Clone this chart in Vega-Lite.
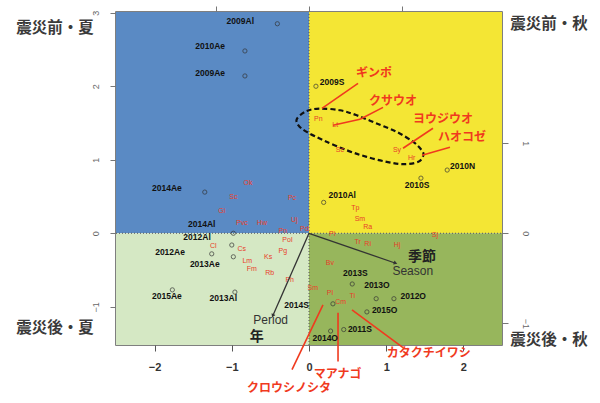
{
  "$schema": "https://vega.github.io/schema/vega-lite/v6.json",
  "width": 386,
  "height": 333,
  "autosize": {"type": "none"},
  "padding": {"left": 116, "top": 12, "right": 98, "bottom": 58},
  "background": "white",
  "config": {
    "view": {"stroke": "#555555", "strokeWidth": 1.5},
    "font": "Liberation Sans"
  },
  "datasets": {
    "quads": [
      {"q": "前・夏", "x": -2.5, "x2": 0, "y": 0, "y2": 3.01},
      {"q": "前・秋", "x": 0, "x2": 2.5, "y": 0, "y2": 3.01},
      {"q": "後・夏", "x": -2.5, "x2": 0, "y": -1.52, "y2": 0},
      {"q": "後・秋", "x": 0, "x2": 2.5, "y": -1.52, "y2": 0}
    ],
    "scores": [
      {"id": "2009Al", "x": -0.41, "y": 2.85, "lx": -0.89, "ly": 2.89},
      {"id": "2010Ae", "x": -0.83, "y": 2.48, "lx": -1.28, "ly": 2.55},
      {"id": "2009Ae", "x": -0.83, "y": 2.14, "lx": -1.28, "ly": 2.18},
      {"id": "2014Ae", "x": -1.35, "y": 0.56, "lx": -1.84, "ly": 0.61},
      {"id": "2014Al", "x": -0.98, "y": 0.0, "lx": -1.39, "ly": 0.13},
      {"id": "2012Al", "x": -1.0, "y": -0.16, "lx": -1.45, "ly": -0.05},
      {"id": "2012Ae", "x": -1.26, "y": -0.28, "lx": -1.8, "ly": -0.25},
      {"id": "2013Ae", "x": -0.98, "y": -0.32, "lx": -1.35, "ly": -0.42},
      {"id": "2015Ae", "x": -1.77, "y": -0.77, "lx": -1.84, "ly": -0.86},
      {"id": "2013Al", "x": -0.96, "y": -0.8, "lx": -1.11, "ly": -0.88},
      {"id": "2009S", "x": 0.09, "y": 2.0, "lx": 0.3, "ly": 2.06},
      {"id": "2010N", "x": 1.79, "y": 0.86, "lx": 1.99, "ly": 0.91},
      {"id": "2010S", "x": 1.45, "y": 0.75, "lx": 1.4, "ly": 0.66},
      {"id": "2010Al", "x": 0.19, "y": 0.42, "lx": 0.43, "ly": 0.52},
      {"id": "2013S", "x": 0.56, "y": -0.69, "lx": 0.6, "ly": -0.54},
      {"id": "2013O", "x": 0.87, "y": -0.89, "lx": 0.88, "ly": -0.7},
      {"id": "2012O", "x": 1.1, "y": -0.89, "lx": 1.35, "ly": -0.86},
      {"id": "2015O", "x": 0.75, "y": -1.07, "lx": 0.98, "ly": -1.05},
      {"id": "2014S", "x": 0.31, "y": -0.96, "lx": -0.16, "ly": -0.97},
      {"id": "2011S", "x": 0.45, "y": -1.31, "lx": 0.66, "ly": -1.3},
      {"id": "2014O", "x": 0.28, "y": -1.33, "lx": 0.21, "ly": -1.42}
    ],
    "species": [
      {"sp": "Ok", "x": -0.79, "y": 0.68},
      {"sp": "Sc", "x": -0.98, "y": 0.49},
      {"sp": "Gi", "x": -1.13, "y": 0.3},
      {"sp": "Pvc", "x": -0.87, "y": 0.14},
      {"sp": "Hw", "x": -0.61, "y": 0.14},
      {"sp": "Pc", "x": -0.22, "y": 0.48},
      {"sp": "Uj", "x": -0.19, "y": 0.18},
      {"sp": "Pn", "x": -0.34, "y": 0.03},
      {"sp": "Pd", "x": -0.06, "y": 0.06},
      {"sp": "Pol", "x": -0.28, "y": -0.09},
      {"sp": "Cl", "x": -1.24, "y": -0.18},
      {"sp": "Cs", "x": -0.87, "y": -0.21},
      {"sp": "Pg", "x": -0.34, "y": -0.24},
      {"sp": "Lm", "x": -0.8, "y": -0.38},
      {"sp": "Ks", "x": -0.53, "y": -0.32},
      {"sp": "Fm", "x": -0.74, "y": -0.48},
      {"sp": "Rb", "x": -0.51, "y": -0.54},
      {"sp": "Ph", "x": -0.25, "y": -0.63},
      {"sp": "Pn", "x": 0.12, "y": 1.56},
      {"sp": "Lt", "x": 0.34, "y": 1.47},
      {"sp": "Sc", "x": 0.4, "y": 1.13},
      {"sp": "Sy", "x": 1.14, "y": 1.13},
      {"sp": "Hr", "x": 1.33, "y": 1.02},
      {"sp": "Tp", "x": 0.6, "y": 0.34},
      {"sp": "Sm", "x": 0.66, "y": 0.19},
      {"sp": "Ra", "x": 0.76, "y": 0.09},
      {"sp": "Pi", "x": 0.3, "y": -0.01},
      {"sp": "Tr", "x": 0.63, "y": -0.12},
      {"sp": "Ri", "x": 0.76, "y": -0.15},
      {"sp": "Hj", "x": 1.14, "y": -0.16},
      {"sp": "Sj", "x": 1.63, "y": -0.02},
      {"sp": "Bv", "x": 0.27, "y": -0.4},
      {"sp": "Sm", "x": 0.05, "y": -0.74},
      {"sp": "Pl", "x": 0.27, "y": -0.81},
      {"sp": "Cm", "x": 0.41, "y": -0.93},
      {"sp": "Ti", "x": 0.56, "y": -0.86}
    ],
    "ellipse": [
      {"i": 1, "x": -0.155, "y": 1.56},
      {"i": 2, "x": -0.03, "y": 1.663},
      {"i": 3, "x": 0.142, "y": 1.696},
      {"i": 4, "x": 0.402, "y": 1.673},
      {"i": 5, "x": 0.618, "y": 1.605},
      {"i": 6, "x": 0.877, "y": 1.493},
      {"i": 7, "x": 1.136, "y": 1.379},
      {"i": 8, "x": 1.351, "y": 1.243},
      {"i": 9, "x": 1.46, "y": 1.13},
      {"i": 10, "x": 1.481, "y": 1.062},
      {"i": 11, "x": 1.416, "y": 0.972},
      {"i": 12, "x": 1.221, "y": 0.94},
      {"i": 13, "x": 1.006, "y": 0.972},
      {"i": 14, "x": 0.747, "y": 1.039},
      {"i": 15, "x": 0.488, "y": 1.13},
      {"i": 16, "x": 0.185, "y": 1.266},
      {"i": 17, "x": -0.03, "y": 1.379},
      {"i": 18, "x": -0.139, "y": 1.47}
    ],
    "leaders": [
      {"name": "ギンポ", "x": 0.168, "y": 1.7, "x2": 0.635, "y2": 2.039},
      {"name": "クサウオ", "x": 0.311, "y": 1.47, "x2": 0.661, "y2": 1.551},
      {"name": "クサウオ", "x": 0.661, "y": 1.551, "x2": 0.959, "y2": 1.713},
      {"name": "ヨウジウオ", "x": 1.218, "y": 1.157, "x2": 1.606, "y2": 1.429},
      {"name": "ハオコゼ", "x": 1.464, "y": 1.062, "x2": 1.826, "y2": 1.171},
      {"name": "クロウシノシタ", "x": 0.181, "y": -0.973, "x2": -0.22, "y2": -1.855},
      {"name": "マアナゴ", "x": 0.376, "y": -1.081, "x2": 0.376, "y2": -1.746},
      {"name": "カタクチイワシ", "x": 0.557, "y": -1.041, "x2": 1.218, "y2": -1.556}
    ],
    "jpLabels": [
      {"name": "ギンポ", "x": 0.842, "y": 2.175},
      {"name": "クサウオ", "x": 1.088, "y": 1.795},
      {"name": "ヨウジウオ", "x": 1.736, "y": 1.551},
      {"name": "ハオコゼ", "x": 1.982, "y": 1.307},
      {"name": "クロウシノシタ", "x": -0.26, "y": -2.11},
      {"name": "マアナゴ", "x": 0.37, "y": -1.91},
      {"name": "カタクチイワシ", "x": 1.55, "y": -1.635}
    ],
    "corners": [
      {"label": "震災前・夏", "x": -3.29, "y": 2.786},
      {"label": "震災後・夏", "x": -3.29, "y": -1.285},
      {"label": "震災前・秋", "x": 3.109, "y": 2.853},
      {"label": "震災後・秋", "x": 3.109, "y": -1.448}
    ],
    "zero": [{"v": 0, "lo": -1.52, "hi": 3.01, "left": -2.5, "right": 2.5}],
    "vectors": [
      {"var": "Season", "x0": 0, "y0": 0, "x": 0.92, "y": -0.33},
      {"var": "Period", "x0": 0, "y0": 0, "x": -0.385, "y": -0.91}
    ],
    "vecLabels": [
      {"t": "季節", "lang": "ja", "x": 1.21, "y": -0.26},
      {"t": "Season", "lang": "en", "x": 1.11, "y": -0.42},
      {"t": "Period", "lang": "en", "x": -0.41, "y": -0.96},
      {"t": "年", "lang": "ja", "x": -0.56, "y": -1.15}
    ]
  },
  "layer": [
    {
      "layer": [
        {
          "data": {"name": "quads"},
          "mark": {"type": "rect"},
          "encoding": {
            "x": {"field": "x", "type": "quantitative", "scale": {"domain": [-2.5, 2.5], "nice": false, "zero": false},
              "axis": {"orient": "bottom", "values": [-2, -1, 0, 1, 2], "format": "d", "title": null, "grid": false, "domain": false, "tickSize": 6, "tickColor": "#555", "labelFontSize": 11, "labelFontWeight": "bold", "labelColor": "#333", "labelPadding": 10}},
            "x2": {"field": "x2"},
            "y": {"field": "y", "type": "quantitative", "scale": {"domain": [-1.52, 3.01], "nice": false, "zero": false},
              "axis": {"orient": "left", "values": [-1, 0, 1, 2, 3], "format": "d", "title": null, "grid": false, "domain": false, "tickSize": 6, "tickColor": "#777", "labelFontSize": 9, "labelColor": "#666", "labelAngle": -90, "labelAlign": "center", "labelBaseline": "bottom", "labelPadding": 10}},
            "y2": {"field": "y2"},
            "color": {"field": "q", "type": "nominal", "legend": null,
              "scale": {"domain": ["前・夏", "前・秋", "後・夏", "後・秋"], "range": ["#5a8ac4", "#f4e634", "#d5e8c4", "#97b65c"]}}
          }
        },
        {
          "data": {"name": "zero"},
          "mark": {"type": "rule", "color": "#555555", "strokeDash": [1, 2], "strokeWidth": 1},
          "encoding": {
            "x": {"field": "v", "type": "quantitative", "scale": {"domain": [-2.5, 2.5], "nice": false, "zero": false}},
            "y": {"field": "lo", "type": "quantitative", "scale": {"domain": [-1.52, 3.01], "nice": false, "zero": false}},
            "y2": {"field": "hi"}
          }
        },
        {
          "data": {"name": "zero"},
          "mark": {"type": "rule", "color": "#555555", "strokeDash": [1, 2], "strokeWidth": 1},
          "encoding": {
            "x": {"field": "left", "type": "quantitative", "scale": {"domain": [-2.5, 2.5], "nice": false, "zero": false}},
            "x2": {"field": "right"},
            "y": {"field": "v", "type": "quantitative", "scale": {"domain": [-1.52, 3.01], "nice": false, "zero": false}}
          }
        },
        {
          "data": {"name": "ellipse"},
          "mark": {"type": "line", "interpolate": "cardinal-closed", "color": "#111111", "strokeWidth": 2.2, "strokeDash": [5, 3]},
          "encoding": {
            "x": {"field": "x", "type": "quantitative", "scale": {"domain": [-2.5, 2.5], "nice": false, "zero": false}},
            "y": {"field": "y", "type": "quantitative", "scale": {"domain": [-1.52, 3.01], "nice": false, "zero": false}},
            "order": {"field": "i", "type": "quantitative"}
          }
        },
        {
          "data": {"name": "leaders"},
          "mark": {"type": "rule", "color": "#f03a1e", "strokeWidth": 1.6},
          "encoding": {
            "x": {"field": "x", "type": "quantitative", "scale": {"domain": [-2.5, 2.5], "nice": false, "zero": false}},
            "y": {"field": "y", "type": "quantitative", "scale": {"domain": [-1.52, 3.01], "nice": false, "zero": false}},
            "x2": {"field": "x2"},
            "y2": {"field": "y2"}
          }
        },
        {
          "data": {"name": "species"},
          "mark": {"type": "text", "color": "#e8402a", "fontSize": 7, "font": "Liberation Sans"},
          "encoding": {
            "x": {"field": "x", "type": "quantitative", "scale": {"domain": [-2.5, 2.5], "nice": false, "zero": false}},
            "y": {"field": "y", "type": "quantitative", "scale": {"domain": [-1.52, 3.01], "nice": false, "zero": false}},
            "text": {"field": "sp"}
          }
        },
        {
          "data": {"name": "scores"},
          "mark": {"type": "point", "shape": "circle", "filled": false, "size": 18, "stroke": "#333333", "strokeWidth": 1},
          "encoding": {
            "x": {"field": "x", "type": "quantitative", "scale": {"domain": [-2.5, 2.5], "nice": false, "zero": false}},
            "y": {"field": "y", "type": "quantitative", "scale": {"domain": [-1.52, 3.01], "nice": false, "zero": false}}
          }
        },
        {
          "data": {"name": "scores"},
          "mark": {"type": "text", "color": "#111111", "fontSize": 8.5, "fontWeight": "bold", "font": "Liberation Sans"},
          "encoding": {
            "x": {"field": "lx", "type": "quantitative", "scale": {"domain": [-2.5, 2.5], "nice": false, "zero": false}},
            "y": {"field": "ly", "type": "quantitative", "scale": {"domain": [-1.52, 3.01], "nice": false, "zero": false}},
            "text": {"field": "id"}
          }
        },
        {
          "data": {"name": "jpLabels"},
          "mark": {"type": "text", "color": "#f03a1e", "fontSize": 12, "fontWeight": "bold", "font": "Noto Sans CJK JP"},
          "encoding": {
            "x": {"field": "x", "type": "quantitative", "scale": {"domain": [-2.5, 2.5], "nice": false, "zero": false}},
            "y": {"field": "y", "type": "quantitative", "scale": {"domain": [-1.52, 3.01], "nice": false, "zero": false}},
            "text": {"field": "name"}
          }
        },
        {
          "data": {"name": "corners"},
          "mark": {"type": "text", "color": "#3a3a3a", "fontSize": 15.5, "fontWeight": "bold", "font": "Noto Sans CJK JP"},
          "encoding": {
            "x": {"field": "x", "type": "quantitative", "scale": {"domain": [-2.5, 2.5], "nice": false, "zero": false}},
            "y": {"field": "y", "type": "quantitative", "scale": {"domain": [-1.52, 3.01], "nice": false, "zero": false}},
            "text": {"field": "label"}
          }
        }
      ]
    },
    {
      "layer": [
        {
          "data": {"name": "vectors"},
          "mark": {"type": "rule", "color": "#333333", "strokeWidth": 1.3},
          "encoding": {
            "x": {"field": "x0", "type": "quantitative", "scale": {"domain": [-2.065, 2.065], "nice": false, "zero": false},
              "axis": {"orient": "top", "values": [-1, 0, 1], "title": null, "grid": false, "domain": false, "labels": false, "tickSize": 6, "tickColor": "#777"}},
            "y": {"field": "y0", "type": "quantitative", "scale": {"domain": [-1.241, 2.459], "nice": false, "zero": false},
              "axis": {"orient": "right", "values": [-1, 0, 1], "format": "d", "title": null, "grid": false, "domain": false, "tickSize": 6, "tickColor": "#777", "labelFontSize": 9, "labelColor": "#666", "labelAngle": 90, "labelAlign": "center", "labelBaseline": "bottom", "labelPadding": 12}},
            "x2": {"field": "x"},
            "y2": {"field": "y"}
          }
        },
        {
          "data": {"name": "vectors"},
          "transform": [{"filter": "datum.var === 'Season'"}],
          "mark": {"type": "point", "shape": "triangle", "filled": true, "color": "#333333", "size": 18, "angle": 109, "opacity": 1},
          "encoding": {
            "x": {"field": "x", "type": "quantitative", "scale": {"domain": [-2.065, 2.065], "nice": false, "zero": false}},
            "y": {"field": "y", "type": "quantitative", "scale": {"domain": [-1.241, 2.459], "nice": false, "zero": false}}
          }
        },
        {
          "data": {"name": "vectors"},
          "transform": [{"filter": "datum.var === 'Period'"}],
          "mark": {"type": "point", "shape": "triangle", "filled": true, "color": "#333333", "size": 18, "angle": 204, "opacity": 1},
          "encoding": {
            "x": {"field": "x", "type": "quantitative", "scale": {"domain": [-2.065, 2.065], "nice": false, "zero": false}},
            "y": {"field": "y", "type": "quantitative", "scale": {"domain": [-1.241, 2.459], "nice": false, "zero": false}}
          }
        },
        {
          "data": {"name": "vecLabels"},
          "transform": [{"filter": "datum.lang === 'ja'"}],
          "mark": {"type": "text", "color": "#222222", "fontSize": 14, "fontWeight": "bold", "font": "Noto Sans CJK JP"},
          "encoding": {
            "x": {"field": "x", "type": "quantitative", "scale": {"domain": [-2.065, 2.065], "nice": false, "zero": false}},
            "y": {"field": "y", "type": "quantitative", "scale": {"domain": [-1.241, 2.459], "nice": false, "zero": false}},
            "text": {"field": "t"}
          }
        },
        {
          "data": {"name": "vecLabels"},
          "transform": [{"filter": "datum.lang === 'en'"}],
          "mark": {"type": "text", "color": "#333333", "fontSize": 12, "font": "Liberation Sans"},
          "encoding": {
            "x": {"field": "x", "type": "quantitative", "scale": {"domain": [-2.065, 2.065], "nice": false, "zero": false}},
            "y": {"field": "y", "type": "quantitative", "scale": {"domain": [-1.241, 2.459], "nice": false, "zero": false}},
            "text": {"field": "t"}
          }
        }
      ]
    }
  ],
  "resolve": {"scale": {"x": "independent", "y": "independent"}}
}
